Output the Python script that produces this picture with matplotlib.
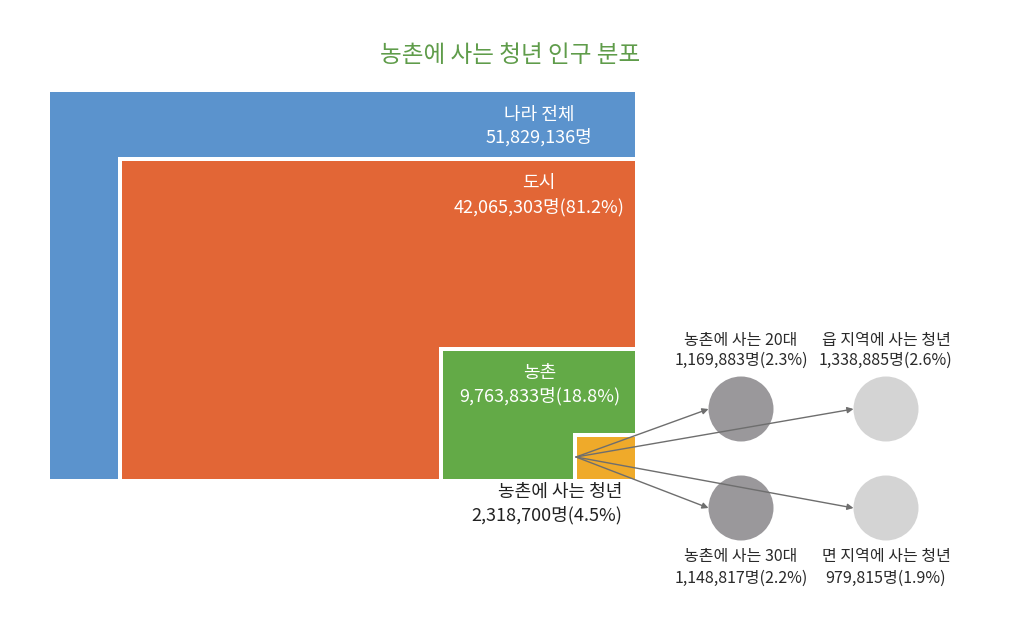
import matplotlib
matplotlib.use("Agg")
import matplotlib.pyplot as plt
from matplotlib.patches import Rectangle, Circle

plt.rcParams["font.family"] = ["Noto Sans CJK KR", "DejaVu Sans"]

# data
title = "농촌에 사는 청년 인구 분포"
box_names = ["나라 전체", "도시", "농촌", "농촌에 사는 청년"]
box_people = [51829136, 42065303, 9763833, 2318700]
box_pct = [None, 81.2, 18.8, 4.5]
box_colors = ["#5b93cd", "#e26636", "#63aa47", "#efaa2a"]

node_names = ["농촌에 사는 20대", "읍 지역에 사는 청년", "농촌에 사는 30대", "면 지역에 사는 청년"]
node_people = [1169883, 1338885, 1148817, 979815]
node_pct = [2.3, 2.6, 2.2, 1.9]
node_colors = ["#9a989b", "#d4d4d4", "#9a989b", "#d4d4d4"]

# layout (pixel space, y down); boxes share the bottom-right corner
right, bottom = 635, 479
box_corner = [(50, 92), (122, 161), (443, 351), (577, 437)]
gap = 4
box_text = [(539, 115, 137, "center"), (539, 183, 207, "center"),
            (540, 373, 396, "center"), (622, 492, 515, "right")]
node_xy = [(741, 409), (886, 409), (741, 508), (886, 508)]
node_r = 32.5
node_text = [(741, 340, 360), (886, 340, 360), (741, 557, 578), (886, 557, 578)]
origin = (576, 457)


def fmt(n, p):
    s = f"{n:,}명"
    if p is not None:
        s += f"({p}%)"
    return s


fig = plt.figure(figsize=(10.24, 6.31), dpi=100)
ax = fig.add_axes([0, 0, 1, 1])
ax.set_xlim(0, 1024)
ax.set_ylim(631, 0)
ax.axis("off")

ax.text(510, 55, title, color="#5f9c4a", fontsize=17, ha="center", va="center")

for i, (x0, y0) in enumerate(box_corner):
    if i > 0:
        # white gap on the top/left side of the nested box
        ax.add_patch(Rectangle((x0 - gap, y0 - gap), right - x0 + gap, bottom - y0 + gap,
                               facecolor="white", edgecolor="none", zorder=2 * i))
    ax.add_patch(Rectangle((x0, y0), right - x0, bottom - y0, facecolor=box_colors[i],
                           edgecolor="none", zorder=2 * i + 1))
    tx, ty1, ty2, ha = box_text[i]
    col = "white" if i < 3 else "#222222"
    ax.text(tx, ty1, box_names[i], color=col, fontsize=13, ha=ha, va="center", zorder=10)
    ax.text(tx, ty2, fmt(box_people[i], box_pct[i]), color=col, fontsize=13,
            ha=ha, va="center", zorder=10)

for i, (cx, cy) in enumerate(node_xy):
    ax.add_patch(Circle((cx, cy), node_r, facecolor=node_colors[i], edgecolor="none", zorder=9))
    tx, ty1, ty2 = node_text[i]
    ax.text(tx, ty1, node_names[i], color="#2a2a2a", fontsize=11.5, ha="center", va="center")
    ax.text(tx, ty2, fmt(node_people[i], node_pct[i]), color="#2a2a2a", fontsize=11.5,
            ha="center", va="center")
    ax.annotate("", xy=(cx - node_r, cy), xytext=origin,
                arrowprops=dict(arrowstyle="-|>", color="#6e6e6e", lw=1.0,
                                mutation_scale=9, shrinkA=0, shrinkB=0),
                zorder=12)

fig.savefig("out.png", dpi=100, facecolor="white")
